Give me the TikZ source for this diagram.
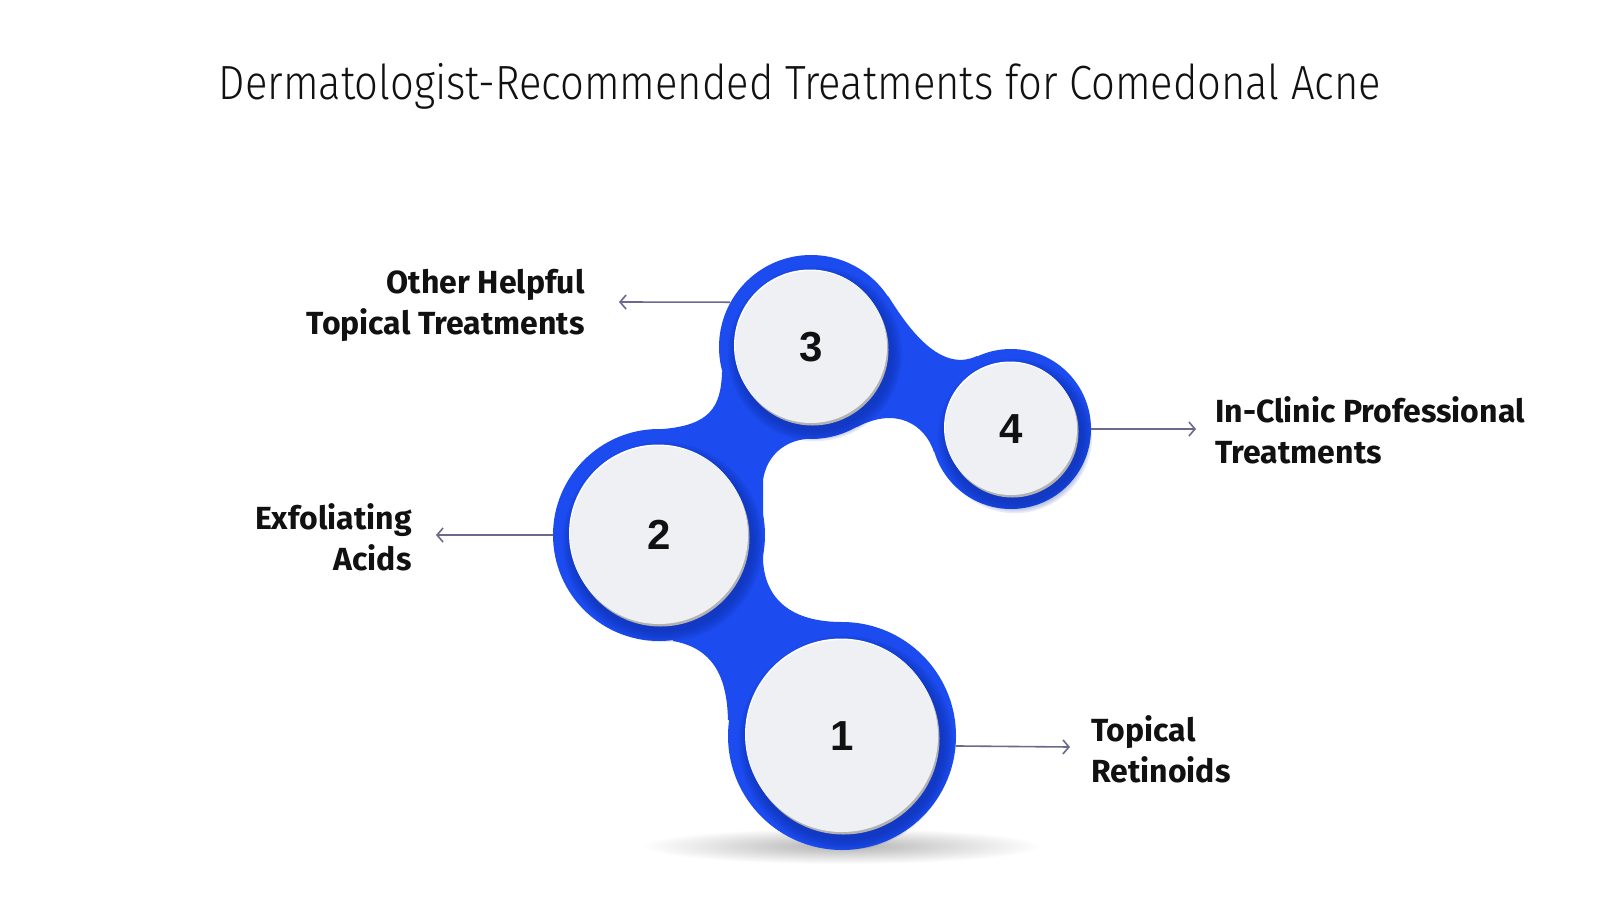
\documentclass[tikz,border=0pt]{standalone}
\usepackage{fontspec}
\setmainfont{Fira Sans}
\newfontfamily\titlefont{Fira Sans Light}[FakeStretch=0.87]
\newfontfamily\numfont{Liberation Sans}
\usetikzlibrary{arrows.meta}
\definecolor{mblue}{HTML}{1C4BEF}
\definecolor{dblue}{HTML}{0A2A9C}
\definecolor{disc}{HTML}{EFF0F4}
\definecolor{arr}{HTML}{6C6A8C}
\definecolor{ink}{HTML}{111111}
\newcommand\mydiscshadow[3]{%
  \foreach \k in {1,...,7}{\fill[dblue,opacity=0.09] (#1+4,#2+7) circle[radius=#3+1.6*\k];}%
}
\begin{document}
\begin{tikzpicture}[x=0.5pt,y=-0.5pt,
  blob/.style={circle,fill=mblue,inner sep=0pt,minimum size=#1},
  discnode/.style={circle,fill=disc,inner sep=0pt,minimum size=#1,text=ink,font=\numfont\bfseries\fontsize{21}{21}\selectfont},
  conn/.style={draw=arr,line width=0.8pt,-{Straight Barb[length=3pt,width=7pt]}},
  lbl/.style={inner sep=0pt,text=ink,font=\bfseries\fontsize{16}{20.5}\selectfont}]
\useasboundingbox (0,0) rectangle (1600,900);
\fill[white] (0,0) rectangle (1600,900);
% title
\node[text=ink,font=\titlefont\fontsize{24}{28}\selectfont] (title) at (800,86) {Dermatologist-Recommended Treatments for Comedonal Acne};
% ground shadow
\shade[inner color=black!30,outer color=white] (842,846) ellipse[x radius=200,y radius=18];
% necks
\fill[mblue] (673,641) .. controls (712,648) and (727,675) .. (728,720) -- (842,736) -- (842,622)
  .. controls (792,622) and (765,600) .. (763,560) -- (763,480)
  .. controls (767,454) and (786,441) .. (806,439) -- (811,347) -- (722,372)
  .. controls (721,408) and (709,425) .. (663,429) -- (659,535) -- cycle;
\fill[mblue] (888,296) .. controls (903,319) and (937,375) .. (977,356) -- (1011,429) -- (934,452)
  .. controls (925,425) and (897,406) .. (857,427) -- (811,347) -- cycle;
% blue circles
\node[blob=114pt] (c1) at (842,736) {};
\node[blob=106pt] (c2) at (659,535) {};
\node[blob=92pt] (c3) at (811,347) {};
\node[blob=80pt] (c4) at (1011,429) {};
% shadows
\mydiscshadow{842}{736}{96}
\mydiscshadow{659}{535}{89}
\mydiscshadow{811}{347}{76}
\mydiscshadow{1011}{429}{66}
\foreach \x/\y/\r in {842/736/96,659/535/89,811/347/76,1011/429/66}{
  \fill[black!30] (\x+1.5,\y+2.5) circle[radius=\r];
  \fill[white] (\x-1,\y-1.5) circle[radius=\r];
}
% discs
\node[discnode=96pt] (d1) at (842,736) {1};
\node[discnode=89pt] (d2) at (659,535) {2};
\node[discnode=76pt] (d3) at (811,347) {3};
\node[discnode=66pt] (d4) at (1011,429) {4};
% labels
\node[lbl,anchor=east,align=right] (l3) at (585,305) {Other Helpful\\Topical Treatments};
\node[lbl,anchor=east,align=right] (l2) at (412,537) {Exfoliating\\Acids};
\node[lbl,anchor=west,align=left] (l4) at (1215,430) {In-Clinic Professional\\Treatments};
\node[lbl,anchor=west,align=left] (l1) at (1091,749) {Topical\\Retinoids};
% arrows
\coordinate (a3) at (619,302);
\coordinate (a2) at (436,535);
\coordinate (a4) at (1196,429);
\coordinate (a1) at (1070,747);
\draw[conn] (c3.151) -- (a3);
\draw[conn] (c2.west) -- (a2);
\draw[conn] (c4.east) -- (a4);
\draw[conn] (c1.-5.5) -- (a1);
\end{tikzpicture}
\end{document}
